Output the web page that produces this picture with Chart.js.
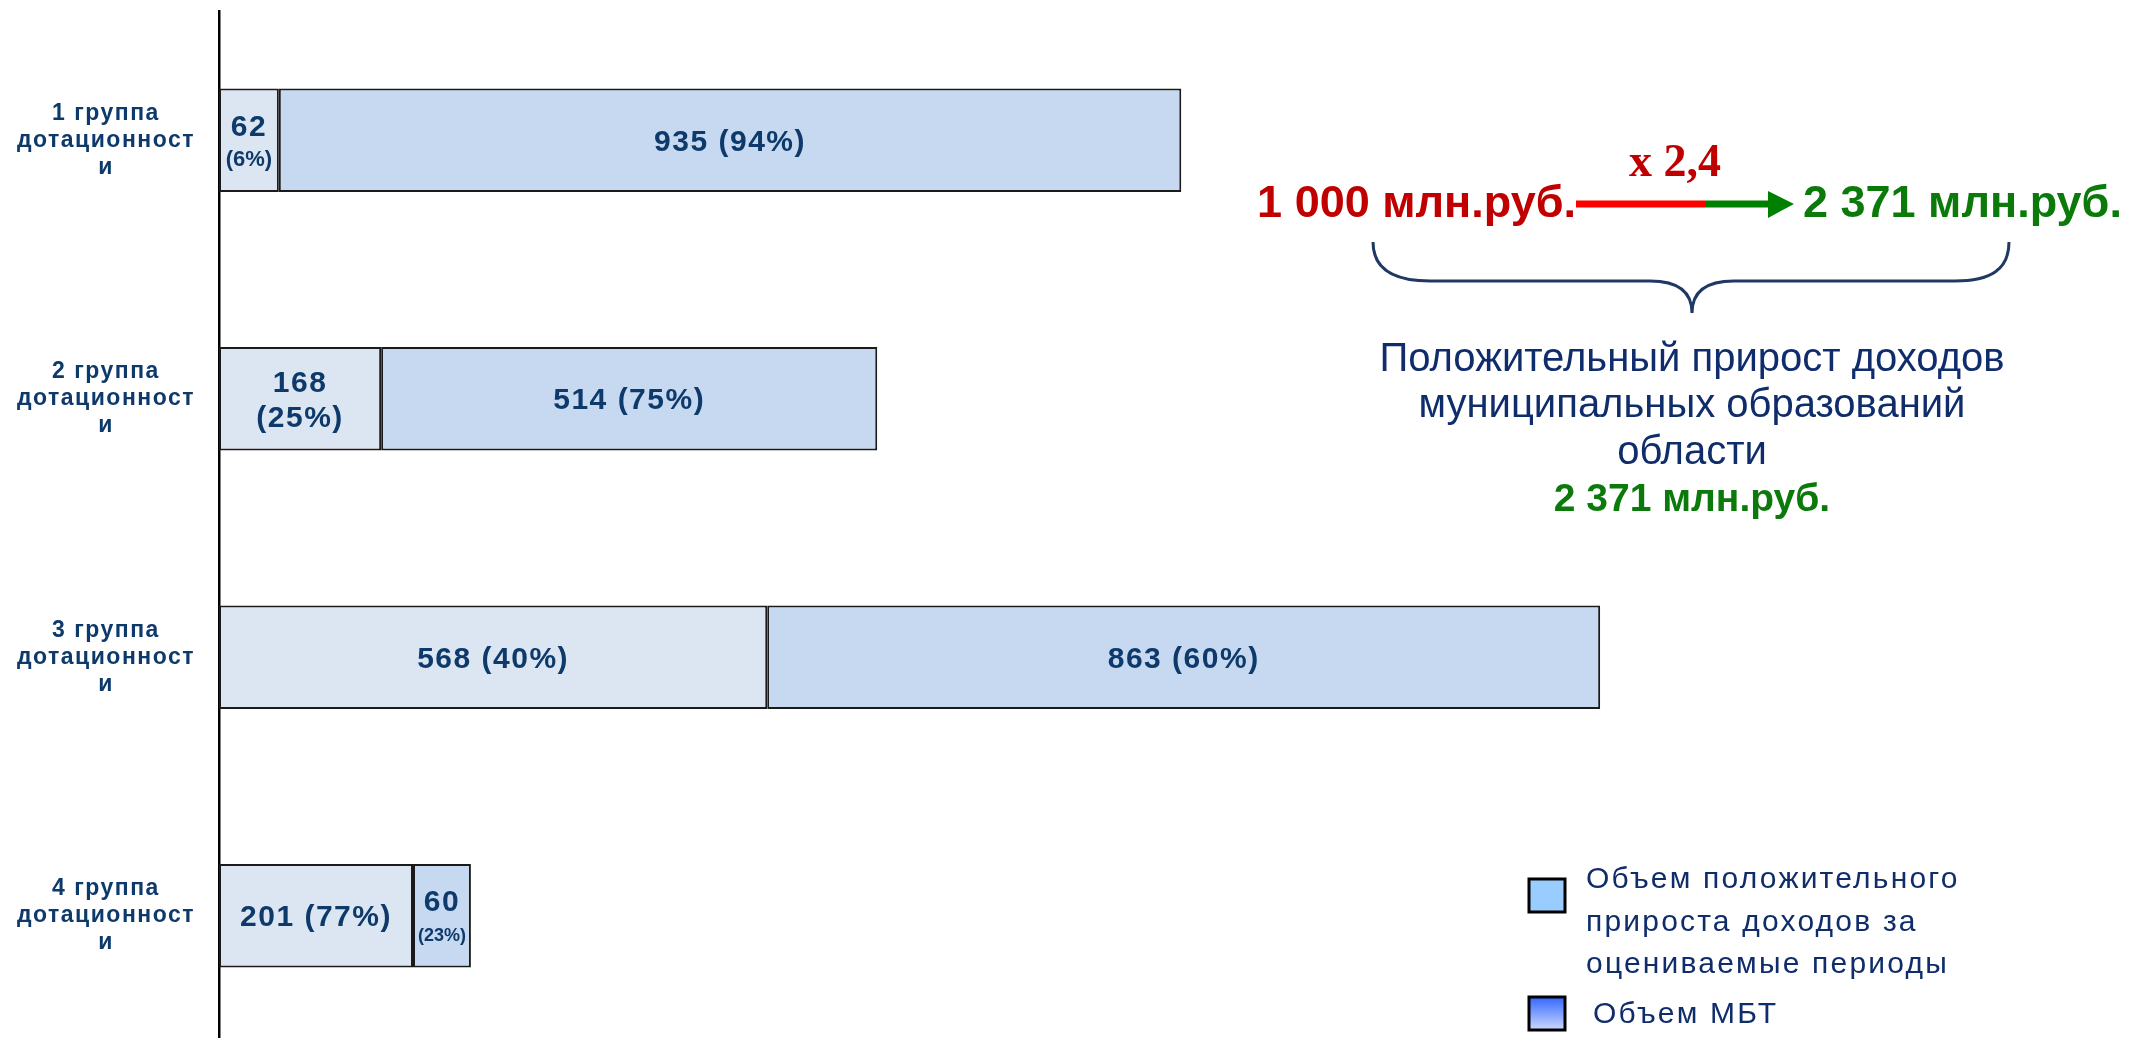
<!DOCTYPE html>
<html lang="ru">
<head>
    <meta charset="UTF-8">
    <title>Прирост доходов по группам дотационности</title>
    <script src="https://cdn.jsdelivr.net/npm/chart.js"></script>
    <style>
        body { margin: 0; overflow: hidden; background: #fff; font-family: "Liberation Sans", Arial, sans-serif; }
        #wrap { position: relative; width: 2131px; height: 1045px; }
        #overlay { position: absolute; left: 0; top: 0; pointer-events: none; }
    </style>
</head>
<body>
<div id="wrap">
    <canvas id="myChart"></canvas>
    <svg id="overlay" width="2131" height="1045" xmlns="http://www.w3.org/2000/svg">
        <defs>
            <linearGradient id="mbtGrad" x1="0" y1="0" x2="0" y2="1">
                <stop offset="0" stop-color="#3366ff"/>
                <stop offset="1" stop-color="#ccd9ff"/>
            </linearGradient>
        </defs>
        <!-- рост 1000 -> 2371 -->
        <text x="1675" y="176" text-anchor="middle" font-family="Liberation Serif, Times New Roman, serif" font-weight="bold" font-size="46" fill="#c00000">x 2,4</text>
        <text x="1576" y="217" text-anchor="end" font-weight="bold" font-size="45" fill="#c00000">1 000 млн.руб.</text>
        <line x1="1576" y1="204" x2="1706" y2="204" stroke="#ff0000" stroke-width="7"/>
        <line x1="1706" y1="204" x2="1772" y2="204" stroke="#008000" stroke-width="7"/>
        <polygon points="1768,191 1794,204 1768,218" fill="#008000"/>
        <text x="1803" y="217" font-weight="bold" font-size="45" fill="#0b7a0b">2 371 млн.руб.</text>
        <path d="M1373,242 C1373,270 1395,281 1430,281 L1650,281 C1675,281 1692,290 1692,313 C1692,290 1709,281 1734,281 L1955,281 C1990,281 2009,270 2009,242"
              fill="none" stroke="#1f3864" stroke-width="3"/>
        <g font-size="40" fill="#0f2c6b" text-anchor="middle">
            <text x="1692" y="371">Положительный прирост доходов</text>
            <text x="1692" y="417">муниципальных образований</text>
            <text x="1692" y="464">области</text>
        </g>
        <text x="1692" y="511" text-anchor="middle" font-weight="bold" font-size="39" fill="#0b7a0b">2 371 млн.руб.</text>
        <!-- легенда -->
        <rect x="1529" y="879" width="36" height="33" fill="#99ccff" stroke="#000" stroke-width="3"/>
        <g font-size="30" fill="#0f2c6b" letter-spacing="2.2">
            <text x="1586" y="888">Объем положительного</text>
            <text x="1586" y="931">прироста доходов за</text>
            <text x="1586" y="973">оцениваемые периоды</text>
            <text x="1593" y="1023">Объем МБТ</text>
        </g>
        <rect x="1529" y="997" width="36" height="33" fill="url(#mbtGrad)" stroke="#000" stroke-width="3"/>
    </svg>
</div>
<script>
const categories = [
    ['1 группа', 'дотационност', 'и'],
    ['2 группа', 'дотационност', 'и'],
    ['3 группа', 'дотационност', 'и'],
    ['4 группа', 'дотационност', 'и']
];
const mbtValues = [62, 168, 568, 201];
const growthValues = [935, 514, 863, 60];
const seriesNames = ['Объем МБТ', 'Объем положительного прироста доходов за оцениваемые периоды'];

const labelColor = '#0e3a6b';

function percentOf(v, i) {
    const total = mbtValues[i] + growthValues[i];
    return Math.round(v / total * 100);
}

// подписи внутри сегментов
const segmentLabels = {
    id: 'segmentLabels',
    beforeUpdate(chart) { chart.ctx.letterSpacing = '1.5px'; },
    beforeDraw(chart) { chart.ctx.letterSpacing = '1.5px'; },
    afterDatasetsDraw(chart) {
        const ctx = chart.ctx;
        ctx.save();
        ctx.letterSpacing = '1.5px';
        ctx.fillStyle = labelColor;
        ctx.textAlign = 'center';
        ctx.textBaseline = 'middle';
        chart.data.datasets.forEach((ds, d) => {
            chart.getDatasetMeta(d).data.forEach((bar, i) => {
                const v = ds.data[i];
                const p = percentOf(v, i);
                const w = Math.abs(bar.x - bar.base);
                const cx = (bar.x + bar.base) / 2;
                const cy = bar.y;
                ctx.font = 'bold 30px "Liberation Sans", Arial';
                if (w < 80) {
                    ctx.fillText(String(v), cx, cy - 13);
                    const txt = '(' + p + '%)';
                    ctx.letterSpacing = '0px';
                    ctx.font = 'bold 22px "Liberation Sans", Arial';
                    const tw = ctx.measureText(txt).width;
                    let size = 22;
                    if (tw > w - 8) size = Math.floor(22 * (w - 8) / tw);
                    ctx.font = 'bold ' + size + 'px "Liberation Sans", Arial';
                    ctx.fillText(txt, cx, cy + 20);
                    ctx.letterSpacing = '1.5px';
                } else if (w < 180) {
                    ctx.fillText(String(v), cx, cy - 15);
                    ctx.fillText('(' + p + '%)', cx, cy + 20);
                } else {
                    ctx.fillText(v + ' (' + p + '%)', cx, cy + 2);
                }
            });
        });
        ctx.restore();
    }
};

const ctx = document.getElementById('myChart').getContext('2d');
const myChart = new Chart(ctx, {
    type: 'bar',
    data: {
        labels: categories,
        datasets: [
            {
                label: seriesNames[0],
                data: mbtValues,
                backgroundColor: '#dce6f2',
                borderColor: '#1a1a1a',
                borderWidth: 2,
                borderSkipped: false,
                barPercentage: 0.8,
                categoryPercentage: 0.5
            },
            {
                label: seriesNames[1],
                data: growthValues,
                backgroundColor: '#c6d9f0',
                borderColor: '#1a1a1a',
                borderWidth: 2,
                borderSkipped: false,
                barPercentage: 0.8,
                categoryPercentage: 0.5
            }
        ]
    },
    options: {
        indexAxis: 'y',
        responsive: true,
        maintainAspectRatio: false,
        animation: false,
        layout: { padding: { top: 11, left: 0, right: 0, bottom: 0 } },
        plugins: {
            legend: { display: false },
            tooltip: { enabled: false }
        },
        scales: {
            x: {
                stacked: true,
                display: false,
                min: 0,
                max: 1981
            },
            y: {
                stacked: true,
                grid: { display: false, drawTicks: false },
                border: { display: true, color: '#000', width: 2.5 },
                afterFit(scale) {
                    scale.width = 219;
                    scale.paddingTop = 0;
                    scale.paddingBottom = 0;
                },
                ticks: {
                    crossAlign: 'center',
                    padding: 24,
                    color: labelColor,
                    font: { family: '"Liberation Sans", Arial', size: 23, weight: 'bold', lineHeight: 1.17 }
                }
            }
        }
    },
    plugins: [segmentLabels]
});
</script>
</body>
</html>
